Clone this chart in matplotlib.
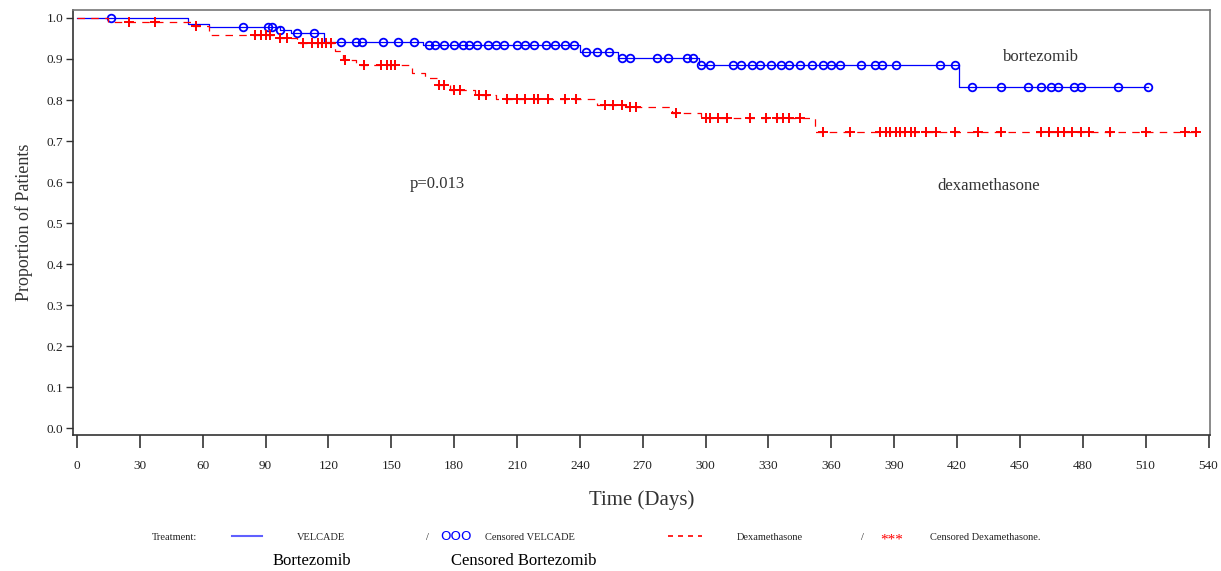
import numpy as np
import matplotlib
matplotlib.use('Agg')
import matplotlib.pyplot as plt
from matplotlib.lines import Line2D

# Kaplan-Meier steps (days, proportion)
bort_times = [0, 53, 63, 97, 102, 118, 165, 240, 258, 297, 421]
bort_surv = [1.0, 0.985, 0.977, 0.970, 0.963, 0.942, 0.934, 0.917, 0.902, 0.885, 0.832]
bort_end = 511
bort_censor = [16, 79, 91, 93, 97, 105, 113, 126, 133, 136, 146, 153, 161, 168, 171,
               175, 180, 184, 187, 191, 196, 200, 204, 210, 214, 218, 224, 228, 233, 237,
               243, 248, 254, 260, 264, 277, 282, 291, 294,
               298, 302, 313, 317, 322, 326, 331, 336, 340, 345, 351, 356, 360, 364,
               374, 381, 384, 391, 412, 419,
               427, 441, 454, 460, 465, 468, 476, 479, 497, 511]

dex_times = [0, 15, 55, 63, 95, 105, 123, 127, 133, 160, 166, 172, 178, 190, 200, 248, 262, 284, 298, 352]
dex_surv = [1.0, 0.99, 0.98, 0.958, 0.95, 0.94, 0.92, 0.897, 0.885, 0.866, 0.854, 0.837, 0.825,
            0.812, 0.802, 0.788, 0.783, 0.768, 0.756, 0.722]
dex_end = 534
dex_censor = [25, 37, 57, 85, 88, 90, 92, 97, 100, 108, 112, 115, 117, 119, 121,
              128, 137, 145, 148, 150, 152, 173, 175, 180, 183, 192, 195,
              205, 210, 214, 218, 220, 225, 233, 238, 252, 256, 260, 264, 267, 286,
              300, 302, 306, 310, 321, 329, 334, 337, 340, 345,
              356, 369, 383, 386, 388, 391, 393, 395, 398, 400, 405, 410, 419, 430, 441,
              460, 464, 468, 471, 475, 479, 483, 493, 510, 529, 534]

x_ticks = list(range(0, 541, 30))
y_ticks = [i / 10 for i in range(11)]

BLUE = '#0000ff'
RED = '#ff0000'
serif = 'Liberation Serif'


def level_at(times, surv, t):
    idx = np.searchsorted(times, t, side='right') - 1
    return np.asarray(surv)[idx]


fig = plt.figure(figsize=(12.21, 5.71), dpi=100, facecolor='white')
ax = fig.add_axes([73 / 1221, 1 - 435 / 571, (1210 - 73) / 1221, (435 - 10) / 571])

# bortezomib curve
bx = bort_times + [bort_end]
by = bort_surv + [bort_surv[-1]]
ax.step(bx, by, where='post', color=BLUE, lw=0.9)
ax.plot(bort_censor, level_at(bort_times, bort_surv, bort_censor), 'o', ms=5.5,
        mfc='none', mec=BLUE, mew=1.3, ls='none')

# dexamethasone curve
dx = dex_times + [dex_end]
dy = dex_surv + [dex_surv[-1]]
ax.step(dx, dy, where='post', color=RED, lw=0.9, ls=(0, (6, 5)))
ax.plot(dex_censor, level_at(dex_times, dex_surv, dex_censor), '+', ms=6.5,
        mec=RED, mew=1.4, ls='none')

ax.set_xlim(-1.9, 540.7)
ax.set_ylim(-0.017, 1.0195)
ax.set_xticks(x_ticks)
ax.set_yticks(y_ticks)
ax.set_xticklabels([str(v) for v in x_ticks], fontfamily=serif, fontsize=9.5, color='#222222')
ax.set_yticklabels(['%.1f' % v for v in y_ticks], fontfamily=serif, fontsize=9.5, color='#222222')
ax.tick_params(axis='x', direction='out', length=9, width=1.2, pad=9, color='#333333')
ax.tick_params(axis='y', direction='out', length=5, width=1, pad=2, color='#333333')
for side in ['left', 'bottom']:
    ax.spines[side].set_color('#333333')
    ax.spines[side].set_linewidth(1.2)
for side in ['top', 'right']:
    ax.spines[side].set_color('#777777')
    ax.spines[side].set_linewidth(1.2)

ax.set_ylabel('Proportion of Patients', fontfamily=serif, fontsize=13, color='#333333', labelpad=10)
ax.set_xlabel('Time (Days)', fontfamily=serif, fontsize=15, color='#333333', labelpad=13)

ax.text(460, 0.905, 'bortezomib', fontfamily=serif, fontsize=12, color='#333333', ha='center', va='center')
ax.text(435, 0.59, 'dexamethasone', fontfamily=serif, fontsize=12, color='#333333', ha='center', va='center')
ax.text(172, 0.595, 'p=0.013', fontfamily=serif, fontsize=12, color='#333333', ha='center', va='center')

# legend row drawn by hand, like the SAS output
ly = 1 - 538 / 571
small = dict(fontfamily=serif, fontsize=7.5, color='#222222', va='center')
fig.text(175 / 1221, ly, 'Treatment:', ha='center', **small)
fig.add_artist(Line2D([232 / 1221, 262 / 1221], [ly + 0.004, ly + 0.004], color='#6060ff', lw=1.5))
fig.text(321 / 1221, ly, 'VELCADE', ha='center', **small)
fig.text(427 / 1221, ly, '/', ha='center', **small)
fig.text(456 / 1221, ly + 0.003, 'OOO', ha='center', fontfamily='DejaVu Sans', fontsize=9.5, color=BLUE, va='center')
fig.text(530 / 1221, ly, 'Censored VELCADE', ha='center', **small)
fig.add_artist(Line2D([668 / 1221, 702 / 1221], [ly + 0.004, ly + 0.004], color=RED, lw=1.2, ls=(0, (3, 3))))
fig.text(770 / 1221, ly, 'Dexamethasone', ha='center', **small)
fig.text(862 / 1221, ly, '/', ha='center', **small)
fig.text(892 / 1221, ly - 0.004, '***', ha='center', fontfamily=serif, fontsize=11, color=RED, va='center')
fig.text(985 / 1221, ly, 'Censored Dexamethasone.', ha='center', **small)

ly2 = 1 - 561 / 571
fig.text(312 / 1221, ly2, 'Bortezomib', ha='center', va='center', fontfamily=serif, fontsize=12, color='black')
fig.text(524 / 1221, ly2, 'Censored Bortezomib', ha='center', va='center', fontfamily=serif, fontsize=12, color='black')

fig.savefig('out.png', dpi=100, facecolor='white')
